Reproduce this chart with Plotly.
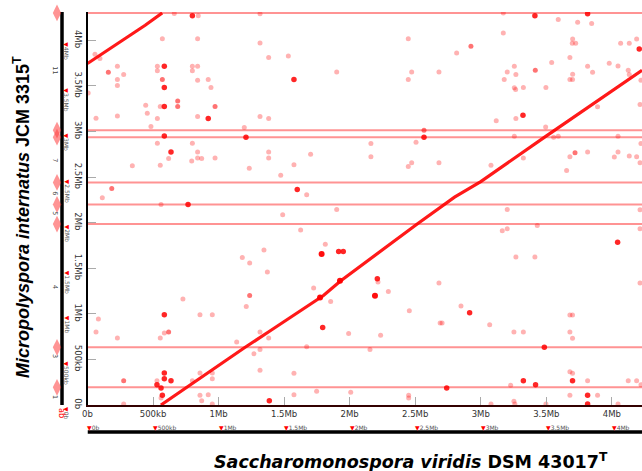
import plotly.graph_objects as go

W, H = 642, 471

# ---------------- data (genome coordinates in Mb) ----------------
x_genome_len = 4.31   # Saccharomonospora viridis DSM 43017T
y_genome_len = 4.31   # Micropolyspora internatus JCM 3315T
x_view = [0, 4.23]
y_view = [0, 4.31]

tick_vals = [0, 0.5, 1, 1.5, 2, 2.5, 3, 3.5, 4]
tick_text = ["0b", "500kb", "1Mb", "1.5Mb", "2Mb", "2.5Mb", "3Mb", "3.5Mb", "4Mb"]

# repeated regions of the vertical genome (hit along the whole horizontal genome)
repeat_y = [4.30, 3.014, 2.937, 2.441, 2.199, 1.984, 0.632, 0.194]

# main collinear alignment
diag_main_x = [0.56, 0.82, 1.20, 1.40, 1.77, 1.80, 1.93, 2.16, 2.51, 2.80, 3.00, 3.49, 3.87, 4.23]
diag_main_y = [0.00, 0.26, 0.63, 0.82, 1.18, 1.20, 1.36, 1.61, 1.98, 2.28, 2.45, 2.94, 3.32, 3.67]
diag_wrap_x = [0.00, 0.235, 0.44, 0.57]
diag_wrap_y = [3.745, 3.964, 4.164, 4.30]
blob_x = [1.774, 1.926, 1.786, 2.193]
blob_y = [1.180, 1.362, 1.655, 1.198]

light_x = [0.662, 0.845, 1.316, 0.571, 0.84, 1.316, 1.382, 0.228, 0.533, 0.80, 0.84, 0.533, 0.80, 0.276,
           0.228, 0.84, 0.921, 0.228, 0.942, 0.005, 0.444, 0.555, 0.456, 0.065, 0.228, 0.533, 0.84, 1.316,
           1.382, 0.484, 1.196, 0.533, 0.80, 0.84, 1.382, 0.619, 0.84, 0.871, 0.973, 1.382, 0.342, 0.555,
           0.795, 1.234, 0.113, 0.561, 0.057, 0.095,
           1.532, 2.447, 2.816, 1.901, 2.473, 2.681, 2.447, 2.162, 2.506, 1.702, 1.575, 2.162, 2.473, 2.447,
           2.681, 1.474, 1.672, 1.901,
           3.172, 3.591, 3.739, 3.846, 3.172, 3.701, 3.698, 3.724, 4.067, 4.133, 4.189, 3.68, 3.541, 3.98,
           4.047, 3.815, 3.256, 3.202, 3.268, 3.701, 3.853, 4.125, 4.133, 3.179, 3.68, 3.70, 4.222, 3.256,
           3.266, 3.325, 3.497, 3.891, 4.215, 3.118, 3.268, 3.495, 3.256, 3.556, 3.591, 4.047, 4.222, 3.325,
           3.68, 3.815, 4.019, 4.047, 4.133, 4.189, 4.215, 3.655, 3.078, 3.202,
           1.181, 1.237, 1.346, 1.372, 1.211, 0.728, 0.083, 0.065, 0.228, 0.858, 0.952, 0.555, 0.586, 1.138,
           1.316, 1.382, 1.27, 1.316, 1.316, 0.858, 0.952, 0.952, 0.80, 0.53, 0.561, 0.858, 0.921, 0.871,
           0.952, 0.276,
           1.489, 1.626, 1.814, 2.216, 2.295, 2.681, 1.725, 1.855, 2.455, 2.69, 2.705, 1.992, 2.236, 1.672,
           2.155, 1.575, 1.575, 1.748, 2.008, 2.45, 2.45,
           4.215, 3.431, 3.164, 3.202, 4.215, 3.268, 3.413, 4.215, 2.849, 3.068, 3.68, 3.70, 3.253, 3.325,
           3.68, 3.70, 3.68, 3.70, 3.815, 4.125, 4.189, 3.228, 4.222, 3.68, 3.891, 3.253, 3.26, 3.078, 4.047,
           3.497]
light_y = [4.293, 4.27, 4.29, 4.018, 4.018, 3.971, 3.81, 3.715, 3.715, 3.715, 3.715, 3.667, 3.667, 3.624,
           3.569, 3.562, 3.569, 3.503, 3.481, 3.423, 3.288, 3.273, 3.2, 3.145, 3.17, 3.142, 3.164, 3.164,
           3.142, 3.054, 3.043, 2.871, 2.871, 2.776, 2.776, 2.703, 2.71, 2.703, 2.71, 2.71, 2.623, 2.63,
           2.677, 2.597, 2.272, 2.199, 3.847, 3.80,
           3.828, 4.018, 3.861, 3.653, 3.653, 3.653, 3.569, 2.868, 2.882, 2.751, 2.634, 2.722, 2.656, 2.616,
           2.656, 2.521, 2.305, 2.145,
           4.30, 4.227, 4.197, 4.183, 4.08, 4.015, 3.967, 3.967, 3.967, 3.967, 4.015, 3.81, 3.755, 3.748,
           3.719, 3.715, 3.715, 3.653, 3.624, 3.627, 3.649, 3.671, 3.624, 3.569, 3.569, 3.569, 3.562, 3.48,
           3.46, 3.481, 3.481, 3.27, 3.295, 3.116, 3.142, 3.05, 2.948, 2.937, 2.948, 2.948, 2.868, 2.71,
           2.722, 2.776, 2.72, 2.776, 2.73, 2.722, 2.656, 2.572, 2.63, 2.145,
           1.618, 1.556, 1.699, 1.458, 1.081, 1.162, 0.942, 0.80, 0.734, 0.99, 0.99, 0.734, 0.789, 0.69,
           0.80, 0.734, 0.562, 0.61, 0.38, 0.351, 0.351, 0.288, 0.267, 0.267, 0.077, 0.106, 0.113, 0.047,
           0.011, 0.01,
           2.086, 1.918, 1.764, 1.348, 1.246, 1.337, 1.282, 1.136, 1.034, 0.899, 0.899, 0.785, 0.764, 0.639,
           0.61, 0.347, 0.113, 0.15, 0.139, 0.106, 0.077,
           2.141, 1.969, 1.91, 1.932, 1.932, 1.622, 1.622, 1.337, 1.085, 0.88, 0.986, 0.986, 0.80, 0.80,
           0.80, 0.731, 0.365, 0.347, 0.267, 0.267, 0.267, 0.216, 0.223, 0.106, 0.106, 0.04, 0.01, 0.01, 0.01,
           0.01]

mid_x = [0.159, 0.571, 0.688, 0.688, 0.973, 0.185, 2.567, 2.925, 3.416, 3.719, 1.237, 0.619, 0.276]
mid_y = [3.649, 3.569, 3.335, 3.273, 3.273, 2.375, 3.014, 3.934, 3.671, 2.767, 1.202, 0.80, 0.267]

dark_x = [0.80, 0.586, 0.586, 0.586, 0.921, 0.586, 1.209, 0.637, 0.767,
          1.575, 2.567, 1.60,
          3.413, 3.815, 4.209, 3.322,
          0.586, 0.586, 0.586, 0.637, 0.53, 0.561, 0.571, 1.387,
          1.916, 1.951, 2.211, 1.794, 2.74,
          4.044, 2.915, 3.485, 3.325, 3.70, 3.418, 3.815, 3.815]
dark_y = [4.27, 3.715, 3.481, 3.273, 3.142, 2.951, 2.937, 2.776, 2.199,
          3.569, 2.937, 2.363,
          4.27, 4.29, 3.905, 3.178,
          0.99, 0.351, 0.288, 0.267, 0.223, 0.186, 0.106, 0.047,
          1.684, 1.684, 1.384, 0.851, 0.186,
          1.786, 1.012, 0.632, 0.267, 0.267, 0.223, 0.106, 0.01]

block_labels = ["11", "7", "6", "5", "4", "3", "1"]
block_label_y = [3.67, 2.685, 2.323, 2.104, 1.293, 0.537, 0.088]

# ---------------- figure ----------------
fig = go.Figure()

# repeat lines
rep_x, rep_y = [], []
for yv in repeat_y:
    rep_x += [0, x_genome_len, None]
    rep_y += [yv, yv, None]
fig.add_trace(go.Scatter(x=rep_x, y=rep_y, mode="lines",
                         line=dict(color="rgba(255,40,40,0.5)", width=2), hoverinfo="skip"))

# scattered hits
fig.add_trace(go.Scatter(x=light_x, y=light_y, mode="markers",
                         marker=dict(size=5, color="rgba(255,0,0,0.3)", line=dict(width=0))))
fig.add_trace(go.Scatter(x=mid_x, y=mid_y, mode="markers",
                         marker=dict(size=5, color="rgba(255,0,0,0.55)", line=dict(width=0))))
fig.add_trace(go.Scatter(x=dark_x, y=dark_y, mode="markers",
                         marker=dict(size=5.5, color="rgba(255,0,0,0.85)", line=dict(width=0))))

# diagonal alignments
for dx, dy in [(diag_main_x, diag_main_y), (diag_wrap_x, diag_wrap_y)]:
    fig.add_trace(go.Scatter(x=dx, y=dy, mode="lines",
                             line=dict(color="rgba(255,0,0,0.9)", width=3.2)))
fig.add_trace(go.Scatter(x=blob_x, y=blob_y, mode="markers",
                         marker=dict(size=6, color="rgba(255,0,0,0.95)", line=dict(width=0))))

# ---- left track (x2 in pixel units, y in Mb) ----
fig.add_trace(go.Scatter(x=[62, 62], y=[0, y_genome_len], xaxis="x2", yaxis="y", mode="lines",
                         line=dict(color="black", width=3.5), cliponaxis=False))
fig.add_trace(go.Scatter(x=[57] * len(repeat_y), y=repeat_y, xaxis="x2", yaxis="y", mode="markers",
                         marker=dict(symbol="diamond-tall", size=12, color="rgba(255,60,60,0.55)",
                                     line=dict(width=0)), cliponaxis=False))

# ---- bottom track (x in Mb, y2 in pixel units) ----
fig.add_trace(go.Scatter(x=[0, x_genome_len], y=[432, 432], xaxis="x", yaxis="y2", mode="lines",
                         line=dict(color="black", width=3.5)))

annotations = []
small_font = dict(family="DejaVu Sans", size=6, color="#555")
for tv, tt in zip(tick_vals, tick_text):
    annotations.append(dict(x=67, y=tv, xref="x2", yref="y", textangle=90,
                            text="<span style='color:red'>▼</span>" + tt,
                            showarrow=False, xanchor="center", yanchor="top", font=small_font))
    annotations.append(dict(x=tv, y=427, xref="x", yref="y2",
                            text="<span style='color:red'>▼</span>" + tt,
                            showarrow=False, xanchor="left", yanchor="middle", xshift=-2, font=small_font))
for lab, yv in zip(block_labels, block_label_y):
    annotations.append(dict(x=55, y=yv, xref="x2", yref="y", textangle=90, text=lab,
                            showarrow=False, font=dict(family="DejaVu Sans", size=6.5, color="#444")))
annotations.append(dict(x=62, y=413, xref="x2", yref="y2", textangle=90, text="ab", showarrow=False,
                        font=dict(family="DejaVu Sans", size=8, color="red")))

# axis titles
annotations.append(dict(x=21 / W, y=1 - 217 / H, xref="paper", yref="paper", textangle=-90,
                        text="<b><i>Micropolyspora internatus</i> JCM 3315<sup>T</sup></b>",
                        showarrow=False, xanchor="center", yanchor="middle",
                        font=dict(family="Liberation Sans", size=18, color="black")))
annotations.append(dict(x=411 / W, y=1 - 461 / H, xref="paper", yref="paper",
                        text="<b><i>Saccharomonospora viridis</i> DSM 43017<sup>T</sup></b>",
                        showarrow=False, xanchor="center", yanchor="middle",
                        font=dict(family="DejaVu Sans", size=17.5, color="black")))

tick_font = dict(family="DejaVu Sans", size=8.5, color="#333")
fig.update_layout(
    width=W, height=H, margin=dict(l=0, r=0, t=0, b=0, autoexpand=False),
    paper_bgcolor="white", plot_bgcolor="rgba(0,0,0,0)", showlegend=False,
    xaxis=dict(domain=[87.5 / W, 1], range=x_view, tickvals=tick_vals, ticktext=tick_text,
               ticks="inside", ticklen=8, tickcolor="#aaa", tickwidth=1, showline=True,
               linecolor="#300", linewidth=2, showgrid=False, zeroline=False, tickfont=tick_font,
               anchor="y", automargin=False),
    yaxis=dict(domain=[(H - 405) / H, (H - 12) / H], range=y_view, tickvals=tick_vals, ticktext=tick_text,
               ticks="inside", ticklen=8, tickcolor="#aaa", tickwidth=1, showline=True,
               linecolor="black", linewidth=2, showgrid=False, zeroline=False, tickfont=tick_font,
               tickangle=90, anchor="x", automargin=False),
    xaxis2=dict(domain=[0, 1], range=[0, W], visible=False, anchor="y", automargin=False),
    yaxis2=dict(domain=[0, 1], range=[H, 0], visible=False, anchor="x", automargin=False),
    annotations=annotations,
)

fig.write_html("out.html", config={"displayModeBar": False},
               post_script="document.body.style.margin='0px';")
